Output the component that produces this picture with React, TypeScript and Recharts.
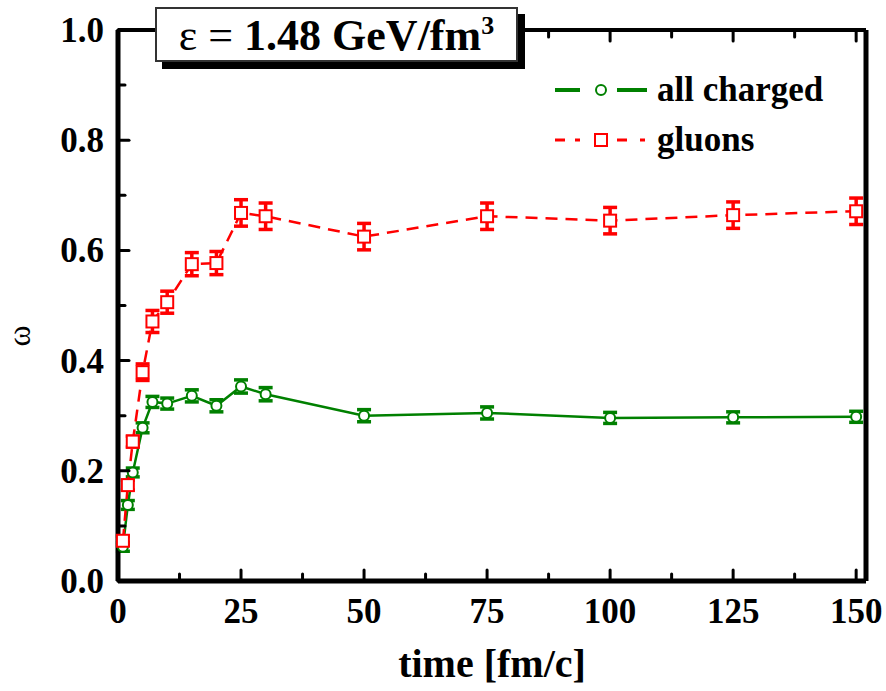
import * as React from "react";
import { ErrorBar, Line, LineChart, XAxis, YAxis, Label } from "recharts";

const times = [1, 2, 3, 5, 7, 10, 15, 20, 25, 30, 50, 75, 100, 125, 150];
const charged = [0.062, 0.138, 0.197, 0.278, 0.325, 0.322, 0.336, 0.318, 0.353, 0.339, 0.3, 0.305, 0.296, 0.297, 0.298];
const chargedErr = [0.008, 0.008, 0.008, 0.009, 0.01, 0.01, 0.011, 0.011, 0.012, 0.012, 0.011, 0.011, 0.01, 0.01, 0.01];
const gluons = [0.073, 0.174, 0.253, 0.379, 0.471, 0.506, 0.575, 0.577, 0.668, 0.662, 0.625, 0.662, 0.654, 0.664, 0.671];
const gluonsErr = [0.008, 0.009, 0.01, 0.015, 0.02, 0.02, 0.021, 0.021, 0.024, 0.024, 0.024, 0.024, 0.024, 0.024, 0.024];

const xTicks = [0, 12.5, 25, 37.5, 50, 62.5, 75, 87.5, 100, 112.5, 125, 137.5, 150];
const yTicks = [0, 0.1, 0.2, 0.3, 0.4, 0.5, 0.6, 0.7, 0.8, 0.9, 1.0];

const data = times.map((t, i) => ({
  time: t,
  charged: charged[i],
  chargedErr: chargedErr[i],
  gluons: gluons[i],
  gluonsErr: gluonsErr[i],
}));

const FONT = "'Liberation Serif', 'Times New Roman', serif";
const GREEN = "#008000";
const RED = "#ff0000";

const isMajorX = (v: number) => v % 25 === 0;
const isMajorY = (v: number) => Math.round(v * 10) % 2 === 0;

function BottomTick(props: any) {
  const { x, y, payload } = props;
  const major = isMajorX(payload.value);
  return (
    <g>
      <line x1={x} x2={x} y1={y} y2={y - (major ? 11 : 7)} stroke="#000" strokeWidth={3} strokeLinecap="round" />
      {major && (
        <text x={x} y={y + 42} textAnchor="middle" fontFamily={FONT} fontWeight="bold" fontSize={35} fill="#000">
          {payload.value}
        </text>
      )}
    </g>
  );
}

function TopTick(props: any) {
  const { x, y, payload } = props;
  const major = isMajorX(payload.value);
  return <line x1={x} x2={x} y1={y} y2={y + (major ? 11 : 7)} stroke="#000" strokeWidth={3} strokeLinecap="round" />;
}

function LeftTick(props: any) {
  const { x, y, payload } = props;
  const major = isMajorY(payload.value);
  return (
    <g>
      <line x1={x} x2={x + (major ? 11 : 7)} y1={y} y2={y} stroke="#000" strokeWidth={3} strokeLinecap="round" />
      {major && (
        <text x={x - 14} y={y + 12} textAnchor="end" fontFamily={FONT} fontWeight="bold" fontSize={35} fill="#000">
          {payload.value.toFixed(1)}
        </text>
      )}
    </g>
  );
}

function RightTick(props: any) {
  const { x, y, payload } = props;
  const major = isMajorY(payload.value);
  return <line x1={x} x2={x - (major ? 11 : 7)} y1={y} y2={y} stroke="#000" strokeWidth={3} strokeLinecap="round" />;
}

function SquareDot(props: any) {
  const { cx, cy, index } = props;
  if (cx == null || cy == null) return null;
  return <rect key={`sq-${index}`} x={cx - 6} y={cy - 6} width={12} height={12} fill="#fff" stroke={RED} strokeWidth={2} />;
}

export default function App() {
  return (
    <div style={{ position: "absolute", left: 0, top: 0, width: 886, height: 691, background: "#fff" }}>
      <LineChart width={886} height={691} data={data} margin={{ top: 0, right: 0, bottom: 0, left: 0 }}>
        <XAxis
          dataKey="time"
          type="number"
          domain={[0, 152]}
          ticks={xTicks}
          interval={0}
          height={110}
          tickSize={0}
          tickMargin={0}
          tickLine={false}
          tick={<BottomTick />}
          axisLine={{ stroke: "#000", strokeWidth: 5 }}
        >
          <Label
            value="time [fm/c]"
            position="insideBottom"
            offset={14}
            style={{ fontFamily: FONT, fontWeight: "bold", fontSize: 40, fill: "#000" }}
          />
        </XAxis>
        <XAxis
          xAxisId="top"
          orientation="top"
          dataKey="time"
          type="number"
          domain={[0, 152]}
          ticks={xTicks}
          interval={0}
          height={30}
          tickSize={0}
          tickMargin={0}
          tickLine={false}
          tick={<TopTick />}
          axisLine={{ stroke: "#000", strokeWidth: 4 }}
        />
        <YAxis
          type="number"
          domain={[0, 1]}
          ticks={yTicks}
          interval={0}
          width={118}
          tickSize={0}
          tickMargin={0}
          tickLine={false}
          tick={<LeftTick />}
          axisLine={{ stroke: "#000", strokeWidth: 5 }}
        />
        <YAxis
          yAxisId="right"
          orientation="right"
          type="number"
          domain={[0, 1]}
          ticks={yTicks}
          interval={0}
          width={20}
          tickSize={0}
          tickMargin={0}
          tickLine={false}
          tick={<RightTick />}
          axisLine={{ stroke: "#000", strokeWidth: 5 }}
        />
        <Line
          type="linear"
          dataKey="charged"
          stroke={GREEN}
          strokeWidth={2.5}
          dot={{ r: 5, stroke: GREEN, strokeWidth: 2, fill: "#fff" }}
          isAnimationActive={false}
        >
          <ErrorBar dataKey="chargedErr" width={7} strokeWidth={3.5} stroke={GREEN} />
        </Line>
        <Line
          type="linear"
          dataKey="gluons"
          stroke={RED}
          strokeWidth={2.5}
          strokeDasharray="12 8"
          dot={<SquareDot />}
          isAnimationActive={false}
        >
          <ErrorBar dataKey="gluonsErr" width={7} strokeWidth={3.5} stroke={RED} />
        </Line>
      </LineChart>

      <div
        style={{
          position: "absolute",
          left: 8,
          top: 336,
          transform: "translate(0, -50%) rotate(-90deg)",
          fontFamily: FONT,
          fontSize: 32,
          lineHeight: "32px",
        }}
      >
        ω
      </div>

      <div
        style={{
          position: "absolute",
          left: 155,
          top: 7,
          width: 359,
          height: 51,
          border: "2px solid #333",
          background: "#fff",
          boxShadow: "7px 7px 0 #000",
          fontFamily: FONT,
          fontWeight: "bold",
          fontSize: 44,
          lineHeight: "54px",
          textAlign: "center",
          whiteSpace: "nowrap",
        }}
      >
        <span style={{ fontWeight: "normal" }}>ε = </span>1.48 GeV/fm
        <sup style={{ fontSize: 26, lineHeight: 0, verticalAlign: "16px" }}>3</sup>
      </div>

      <div style={{ position: "absolute", left: 550, top: 70, fontFamily: FONT, fontWeight: "bold", fontSize: 35 }}>
        <div style={{ display: "flex", alignItems: "center", height: 40 }}>
          <svg width={100} height={20}>
            <line x1={5} x2={30} y1={10} y2={10} stroke={GREEN} strokeWidth={4} />
            <circle cx={51} cy={10} r={5} fill="#fff" stroke={GREEN} strokeWidth={2} />
            <line x1={67} x2={97} y1={10} y2={10} stroke={GREEN} strokeWidth={4} />
          </svg>
          <span style={{ marginLeft: 7 }}>all charged</span>
        </div>
        <div style={{ display: "flex", alignItems: "center", height: 40, marginTop: 10 }}>
          <svg width={100} height={20}>
            <line x1={5} x2={30} y1={10} y2={10} stroke={RED} strokeWidth={3} strokeDasharray="10 10 5 20" />
            <rect x={45} y={4} width={12} height={12} fill="#fff" stroke={RED} strokeWidth={2} />
            <line x1={67} x2={97} y1={10} y2={10} stroke={RED} strokeWidth={3} strokeDasharray="10 13 5 20" />
          </svg>
          <span style={{ marginLeft: 7 }}>gluons</span>
        </div>
      </div>
    </div>
  );
}
